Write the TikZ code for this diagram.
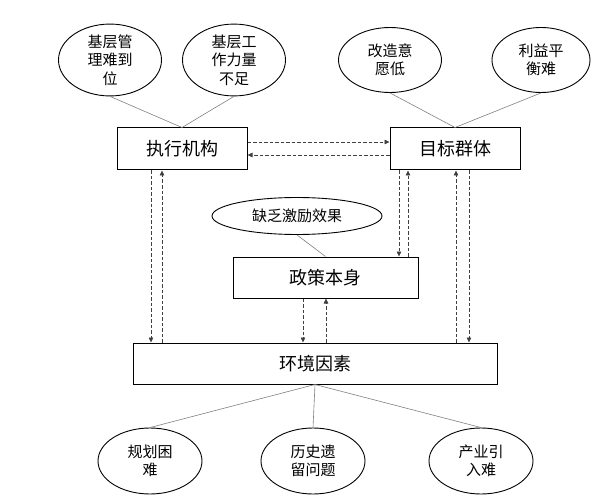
\documentclass[tikz,border=0pt]{standalone}
\usepackage{fontspec}
\newfontfamily\cjk{Noto Sans CJK SC}
\usepackage{tikz}
\usetikzlibrary{shapes,arrows.meta,positioning}

\begin{document}
\begin{tikzpicture}[x=1pt, y=-1pt,
    box/.style={rectangle, draw, line width=1pt, inner sep=0pt, minimum width=130pt, minimum height=42pt, font=\cjk\fontsize{18}{22}\selectfont},
    oval/.style={ellipse, draw, line width=0.9pt, inner sep=0pt, minimum width=103pt, minimum height=65pt, align=center, font=\cjk\fontsize{15}{18.5}\selectfont},
    link/.style={draw=gray, line width=0.6pt},
    arrow/.style={-{Triangle[length=5pt,width=4.5pt]}, draw=black!75, line width=0.7pt, dash pattern=on 3.5pt off 2pt}
]
\useasboundingbox (0,0) rectangle (608,500);

\node[box] (exec) at (182,149) {执行机构};
\node[box] (goal) at (455,149) {目标群体};
\node[box, minimum width=185pt, minimum height=41pt] (policy) at (325.5,277.5) {政策本身};
\node[box, minimum width=364pt, minimum height=41pt] (env) at (315,363.5) {环境因素};

\node[oval] (manage) at (110,60) {基层管\\理难到\\位};
\node[oval] (staff) at (234,60) {基层工\\作力量\\不足};
\node[oval] (will) at (390,60) {改造意\\愿低};
\node[oval, minimum width=98pt] (balance) at (541,60) {利益平\\衡难};
\node[oval, minimum width=170pt, minimum height=37pt] (incent) at (297,216) {缺乏激励效果};
\node[oval, minimum width=104pt, minimum height=66pt] (plan) at (150,461) {规划困\\难};
\node[oval, minimum width=104pt, minimum height=66pt] (history) at (313,461) {历史遗\\留问题};
\node[oval, minimum width=104pt, minimum height=66pt] (industry) at (481,461) {产业引\\入难};

% factors
\draw[link] (manage.south) -- (exec.north);
\draw[link] (staff.south) -- (exec.north);
\draw[link] (will.south) -- (goal.north);
\draw[link] (balance.south) -- (goal.north);
\draw[link] (incent.south) -- (policy.north);
\draw[link] (env.south) -- (plan.north);
\draw[link] (env.south) -- (history.north);
\draw[link] (env.south) -- (industry.north);

% interactions
\draw[arrow] ([yshift=7pt]exec.east) -- ([yshift=7pt]goal.west);
\draw[arrow] ([yshift=-6pt]goal.west) -- ([yshift=-6pt]exec.east);
\draw[arrow] ([xshift=-31pt]exec.south) -- ([xshift=-164pt]env.north);
\draw[arrow] ([xshift=-153pt]env.north) -- ([xshift=-20pt]exec.south);
\draw[arrow] ([xshift=-56pt]goal.south) -- ([xshift=73.5pt]policy.north);
\draw[arrow] ([xshift=82.5pt]policy.north) -- ([xshift=-47pt]goal.south);
\draw[arrow] ([xshift=141pt]env.north) -- ([xshift=1pt]goal.south);
\draw[arrow] ([xshift=14pt]goal.south) -- ([xshift=154pt]env.north);
\draw[arrow] ([xshift=-22.5pt]policy.south) -- ([xshift=-12pt]env.north);
\draw[arrow] ([xshift=11pt]env.north) -- ([xshift=0.5pt]policy.south);
\end{tikzpicture}
\end{document}
